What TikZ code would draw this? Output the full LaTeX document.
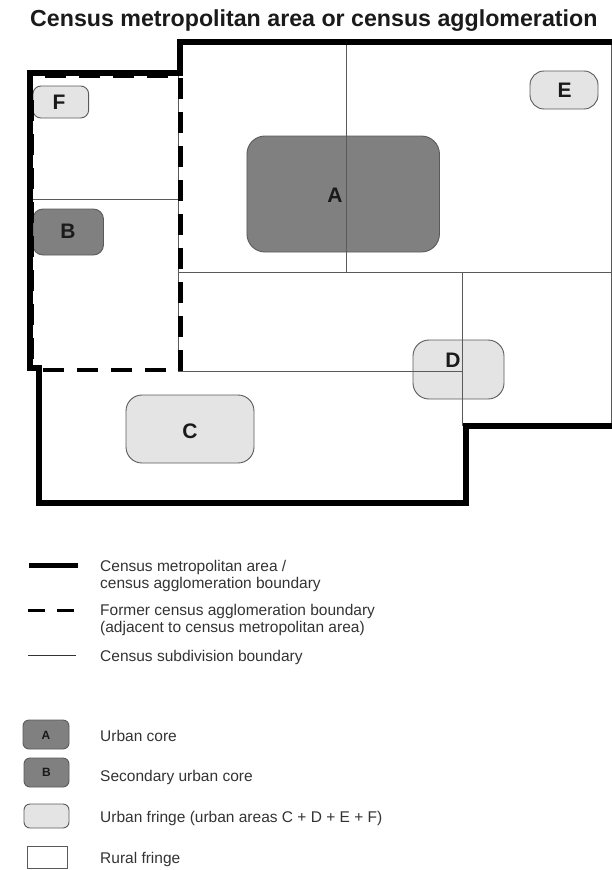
\documentclass[tikz,border=0pt]{standalone}
\usepackage{fontspec}
\setmainfont{Liberation Sans}
\definecolor{coregray}{HTML}{808080}
\definecolor{fringegray}{HTML}{E4E4E4}
\definecolor{edgegray}{HTML}{5A5A5A}
\definecolor{inkblack}{HTML}{1A1A1A}
\tikzset{
  areabox/.style={draw=edgegray,line width=0.9pt,inner sep=0pt,outer sep=0pt},
  corebox/.style={areabox,fill=coregray},
  fringebox/.style={areabox,fill=fringegray},
  letter/.style={inner sep=0pt,font=\fontsize{21}{21}\selectfont\bfseries,text=inkblack},
  smallletter/.style={inner sep=0pt,font=\fontsize{12}{12}\selectfont\bfseries,text=inkblack},
  legendtext/.style={anchor=west,inner sep=0pt,align=left,text=black!80,font=\fontsize{15.5}{17}\selectfont},
  thinline/.style={draw=edgegray,line width=0.9pt},
  heavyline/.style={draw=black,line width=6pt,miter limit=10},
  dashline/.style={draw=black,line width=4.5pt,dash pattern=on 20.5pt off 13.5pt},
}
\begin{document}
\begin{tikzpicture}[x=1pt,y=-1pt]
\useasboundingbox (0,0) rectangle (612,870);
% title
\node[anchor=base west,inner sep=0pt,text=inkblack,font=\fontsize{23.2}{23}\selectfont\bfseries] (title) at (30,27) {Census metropolitan area or census agglomeration};
% urban areas
\node[corebox,minimum width=192.5pt,minimum height=116pt,rounded corners=18pt] (areaA) at (343.2,194) {};
\node[corebox,minimum width=70.5pt,minimum height=46pt,rounded corners=10pt] (areaB) at (68.2,232) {};
\node[fringebox,minimum width=55.7pt,minimum height=32pt,rounded corners=8pt] (areaF) at (60.8,102) {};
\node[fringebox,minimum width=68pt,minimum height=38pt,rounded corners=14pt] (areaE) at (564,90) {};
\node[fringebox,minimum width=128pt,minimum height=68pt,rounded corners=16pt] (areaC) at (190,429) {};
\node[fringebox,minimum width=91pt,minimum height=59pt,rounded corners=16pt] (areaD) at (458.5,369.5) {};
% subdivision lines
\draw[thinline] (346.7,44) -- (346.7,272.3);
\draw[thinline] (178,272.3) -- (611.3,272.3);
\draw[thinline] (462.5,272.3) -- (462.5,426);
\draw[thinline] (178,371) -- (462.5,371);
\draw[thinline] (33,199.5) -- (178,199.5);
\draw[thinline] (178,76) -- (178,371);
\draw[thinline] (611.3,41.5) -- (611.3,426);
% letters
\node[letter] (lblA) at (335,195) {A};
\node[letter] (lblB) at (68,231) {B};
\node[letter] (lblC) at (190,431) {C};
\node[letter] (lblD) at (453,360) {D};
\node[letter] (lblE) at (564.5,90) {E};
\node[letter] (lblF) at (59,102) {F};
% former CA boundary
\draw[dashline] (180.5,78) -- (180.5,371);
\draw[dashline] (43,370) -- (178,370);
\draw[dashline] (45,75.5) -- (178,75.5);
\draw[dashline,line width=3pt] (32,100) -- (32,368);
% CMA boundary
\draw[heavyline] (612,41.5) -- (180,41.5) -- (180,72.5) -- (29.5,72.5) -- (29.5,368) -- (39,368) -- (39,503) -- (465.5,503) -- (465.5,426) -- (612,426);
% legend lines
\coordinate (l1a) at (29,565); \coordinate (l1b) at (78,565);
\coordinate (l2a) at (28,610); \coordinate (l2b) at (74,610);
\coordinate (l3a) at (28,655); \coordinate (l3b) at (76,655);
\draw[draw=black,line width=5pt] (l1a) -- (l1b);
\draw[draw=black,line width=3pt,dash pattern=on 17pt off 12pt] (l2a) -- (l2b);
\draw[draw=black!80,line width=0.9pt] (l3a) -- (l3b);
\node[legendtext] (t1) at (100,576) {Census metropolitan area /\\census agglomeration boundary};
\node[legendtext] (t2) at (100,620) {Former census agglomeration boundary\\(adjacent to census metropolitan area)};
\node[legendtext] (t3) at (100,657.5) {Census subdivision boundary};
% legend swatches
\node[corebox,minimum width=46pt,minimum height=29pt,rounded corners=6pt] (swA) at (46,734.5) {};
\node[smallletter] (swAl) at (46,735) {A};
\node[corebox,minimum width=45pt,minimum height=29pt,rounded corners=6pt] (swB) at (46.5,772.5) {};
\node[smallletter] (swBl) at (46.5,772.5) {B};
\node[fringebox,minimum width=45pt,minimum height=24pt,rounded corners=6pt] (swC) at (46.5,816) {};
\node[areabox,fill=white,minimum width=40pt,minimum height=22pt] (swR) at (47,857) {};
\node[legendtext] (t4) at (100,735.5) {Urban core};
\node[legendtext] (t5) at (100,777.5) {Secondary urban core};
\node[legendtext] (t6) at (100,818.5) {Urban fringe (urban areas C + D + E + F)};
\node[legendtext] (t7) at (100,859.5) {Rural fringe};
\end{tikzpicture}
\end{document}
